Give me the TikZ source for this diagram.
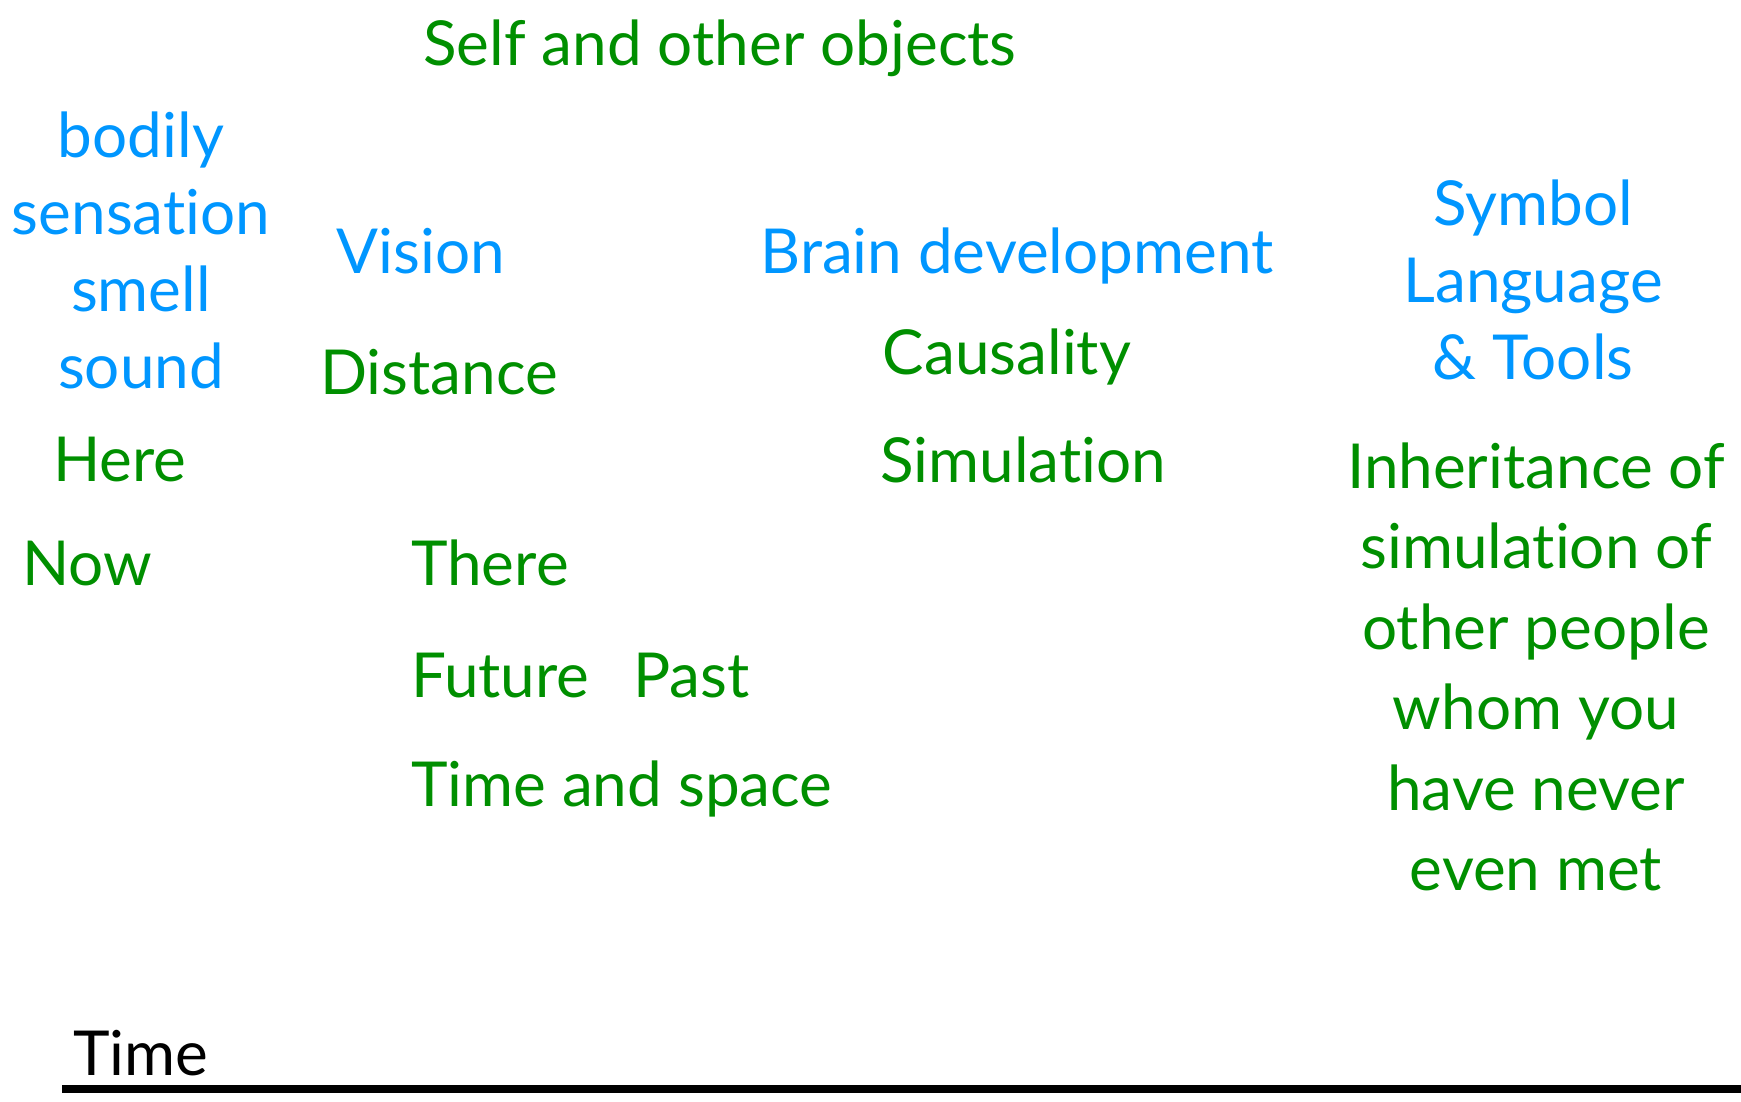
\documentclass[tikz,border=0pt]{standalone}
\usepackage{fontspec}
\setmainfont{Lato}[Ligatures={NoCommon}]
\usetikzlibrary{positioning}
\definecolor{clover}{RGB}{0,143,0}
\definecolor{aqua}{RGB}{0,150,255}
\tikzset{
  word/.style={inner sep=0pt, text height=47pt, text depth=15pt, font=\fontsize{62}{77}\selectfont},
  sense/.style={word, text=aqua},
  idea/.style={word, text=clover}
}
\begin{document}
\begin{tikzpicture}[x=1pt, y=-1pt, node distance=77pt, on grid]
  \useasboundingbox (0,0) rectangle (1741,1101);
  \path
  node[idea] (self) at (720,49) {Self and other objects}

  node[sense] (bodily) at (141,141) {bodily}
  node[sense] (sensation) [below=of bodily] {sensation}
  node[sense] (smell) [below=of sensation] {smell}
  node[sense] (sound) [below=of smell] {sound}
  node[idea, anchor=west] (here) at (53,465) {Here}
  node[idea, anchor=west] (now) at (22,569) {Now}

  node[sense] (vision) at (421,257) {Vision}
  node[idea] (distance) at (439,378) {Distance}
  node[idea, anchor=west] (there) at (411,569) {There}
  node[idea, anchor=west] (future) at (411,681) {Future}
  node[idea, anchor=west] (past) at (633,681) {Past}
  node[idea, anchor=west] (timespace) at (411,790) {Time and space}

  node[sense] (brain) at (1017,257) {Brain development}
  node[idea] (causality) at (1007,358) {Causality}
  node[idea] (simulation) at (1023,466) {Simulation}

  node[sense] (symbol) at (1533,209) {Symbol}
  node[sense] (language) [below=of symbol] {Language}
  node[sense] (tools) [below=of language] {\& Tools}

  node[idea] (inh1) at (1536,472) {Inheritance of}
  node[idea] (inh2) [below=80.5pt of inh1] {simulation of}
  node[idea] (inh3) [below=80.5pt of inh2] {other people}
  node[idea] (inh4) [below=80.5pt of inh3] {whom you}
  node[idea] (inh5) [below=80.5pt of inh4] {have never}
  node[idea] (inh6) [below=80.5pt of inh5] {even met}

  node[word, anchor=west] (time) at (73,1059) {Time}
  ;
  \coordinate (t0) at (62,1089);
  \coordinate (t1) at (1741,1089);
  \draw[line width=8pt] (t0) -- (t1);
\end{tikzpicture}
\end{document}
